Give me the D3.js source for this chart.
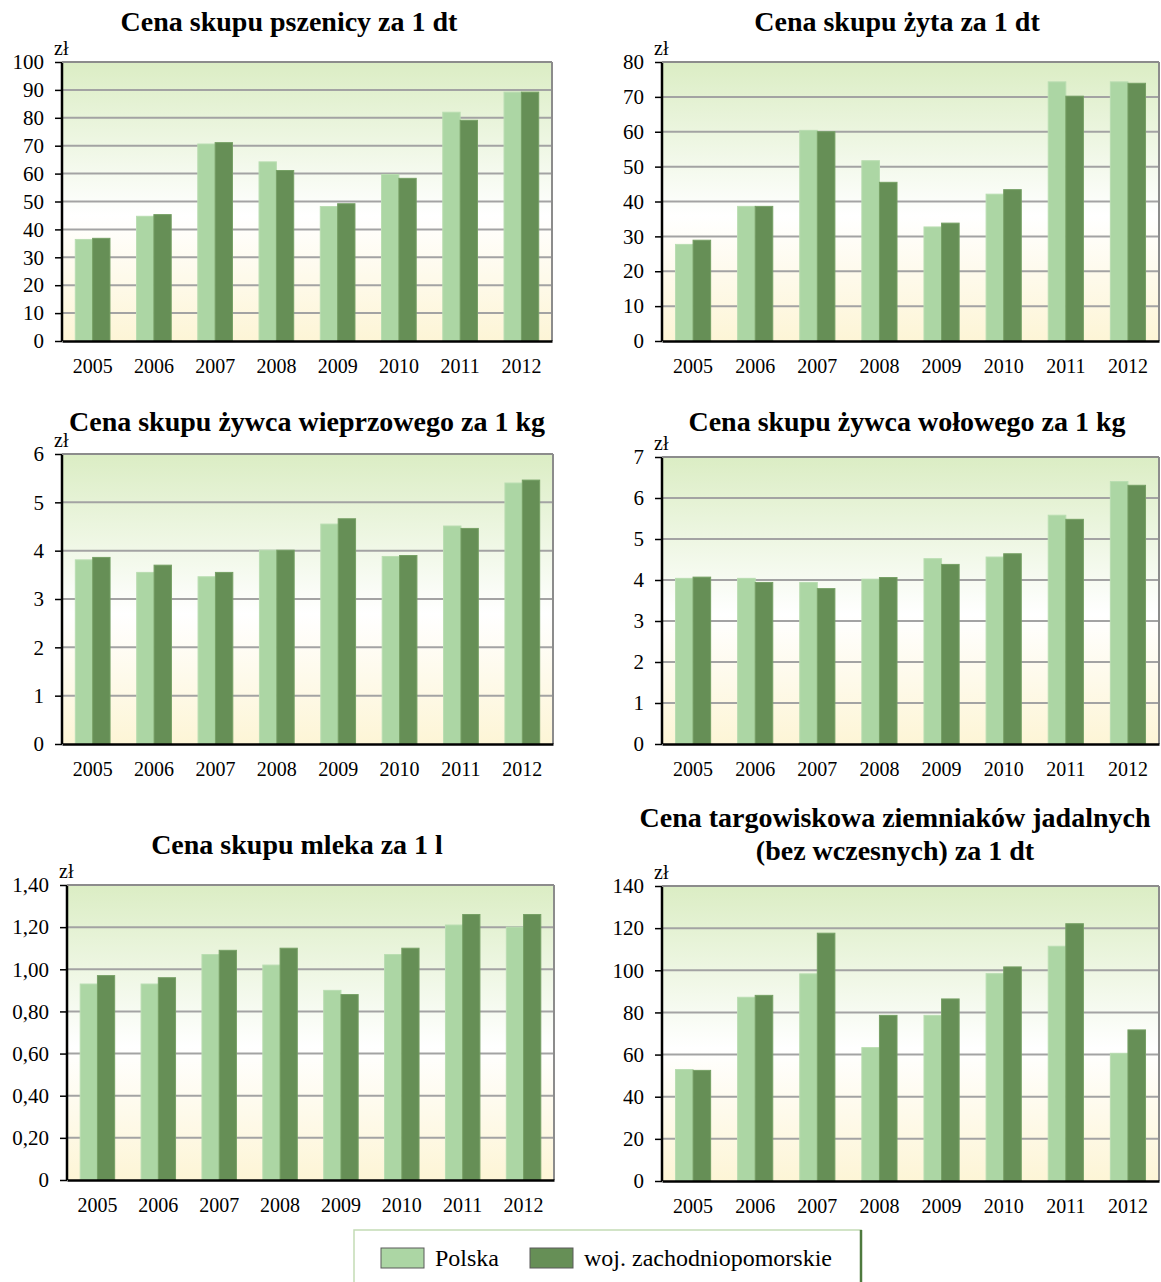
<!DOCTYPE html>
<html>
<head>
<meta charset="utf-8">
<script src="https://cdn.jsdelivr.net/npm/d3@7"></script>
<style>
  body { margin: 0; background: #fff; }
  svg { display: block; font-family: "Liberation Serif", "Times New Roman", serif; }
</style>
</head>
<body>
<div id="chart"></div>
<script>
var years = ['2005', '2006', '2007', '2008', '2009', '2010', '2011', '2012'];
var seriesNames = ['Polska', 'woj. zachodniopomorskie'];

var wheatPL = [36.4, 44.7, 70.6, 64.2, 48.2, 59.7, 82.0, 89.2];
var wheatZP = [36.8, 45.3, 71.1, 61.1, 49.2, 58.3, 79.1, 89.2];
var wheatTicks = [0, 10, 20, 30, 40, 50, 60, 70, 80, 90, 100];

var ryePL = [27.7, 38.6, 60.4, 51.7, 32.7, 42.1, 74.3, 74.3];
var ryeZP = [28.9, 38.6, 60.0, 45.5, 33.8, 43.4, 70.2, 73.9];
var ryeTicks = [0, 10, 20, 30, 40, 50, 60, 70, 80];

var porkPL = [3.81, 3.55, 3.46, 4.01, 4.55, 3.88, 4.51, 5.40];
var porkZP = [3.86, 3.70, 3.55, 4.01, 4.66, 3.90, 4.46, 5.46];
var porkTicks = [0, 1, 2, 3, 4, 5, 6];

var beefPL = [4.04, 4.04, 3.94, 4.02, 4.52, 4.56, 5.58, 6.40];
var beefZP = [4.07, 3.94, 3.79, 4.06, 4.38, 4.64, 5.48, 6.31];
var beefTicks = [0, 1, 2, 3, 4, 5, 6, 7];

var milkPL = [0.93, 0.93, 1.07, 1.02, 0.90, 1.07, 1.21, 1.20];
var milkZP = [0.97, 0.96, 1.09, 1.10, 0.88, 1.10, 1.26, 1.26];
var milkTicks = [0, 0.2, 0.4, 0.6, 0.8, 1.0, 1.2, 1.4];

var potatoPL = [52.9, 87.2, 98.3, 63.3, 78.6, 98.4, 111.4, 60.6];
var potatoZP = [52.5, 88.1, 117.6, 78.6, 86.4, 101.6, 122.1, 71.7];
var potatoTicks = [0, 20, 40, 60, 80, 100, 120, 140];

var lightGreen = '#acd6a4';
var darkGreen = '#668f56';

var width = 1161;
var height = 1282;

var svg = d3.select('#chart')
            .append('svg')
            .attr('width', width)
            .attr('height', height);

// background gradient of the plot area
var grad = svg.append('defs')
              .append('linearGradient')
              .attr('id', 'plotBg')
              .attr('x1', 0).attr('y1', 0)
              .attr('x2', 0).attr('y2', 1);
grad.append('stop').attr('offset', '0%').attr('stop-color', '#dbedc4');
grad.append('stop').attr('offset', '55%').attr('stop-color', '#ffffff');
grad.append('stop').attr('offset', '100%').attr('stop-color', '#fdf5d6');

var comma = d => d === 0 ? '0' : d.toFixed(2).replace('.', ',');

var panels = [
  {title: ['Cena skupu pszenicy za 1 dt'], tx: 289, ty: 31, x: 62, y: 62, w: 490, h: 279,
   pl: wheatPL, zp: wheatZP, ticks: wheatTicks, fmt: d3.format('d')},
  {title: ['Cena skupu żyta za 1 dt'], tx: 897, ty: 31, x: 662, y: 62, w: 497, h: 279,
   pl: ryePL, zp: ryeZP, ticks: ryeTicks, fmt: d3.format('d')},
  {title: ['Cena skupu żywca wieprzowego za 1 kg'], tx: 307, ty: 431, x: 62, y: 454, w: 491, h: 290,
   pl: porkPL, zp: porkZP, ticks: porkTicks, fmt: d3.format('d')},
  {title: ['Cena skupu żywca wołowego za 1 kg'], tx: 907, ty: 431, x: 662, y: 457, w: 497, h: 287,
   pl: beefPL, zp: beefZP, ticks: beefTicks, fmt: d3.format('d')},
  {title: ['Cena skupu mleka za 1 l'], tx: 297, ty: 854, x: 67, y: 885, w: 487, h: 295,
   pl: milkPL, zp: milkZP, ticks: milkTicks, fmt: comma},
  {title: ['Cena targowiskowa ziemniaków jadalnych', '(bez wczesnych) za 1 dt'], tx: 895, ty: 827, x: 662, y: 886, w: 497, h: 295,
   pl: potatoPL, zp: potatoZP, ticks: potatoTicks, fmt: d3.format('d')}
];

panels.forEach(drawPanel);

function drawPanel(p) {
  var t = svg.append('text')
             .attr('text-anchor', 'middle')
             .attr('font-size', 28)
             .attr('font-weight', 'bold')
             .attr('fill', '#000');
  p.title.forEach((line, i) => {
    t.append('tspan').attr('x', p.tx).attr('y', p.ty + i * 33).text(line);
  });

  var g = svg.append('g')
             .attr('transform', 'translate(' + p.x + ',' + p.y + ')');

  var x0 = d3.scaleBand()
             .domain(years)
             .range([0, p.w])
             .paddingInner(0.434)
             .paddingOuter(0.217);

  var x1 = d3.scaleBand()
             .domain(seriesNames)
             .range([0, x0.bandwidth()]);

  var y = d3.scaleLinear()
            .domain([0, d3.max(p.ticks)])
            .range([p.h, 0]);

  g.append('rect')
   .attr('width', p.w)
   .attr('height', p.h)
   .attr('fill', 'url(#plotBg)');

  // gridlines
  g.selectAll('.grid')
   .data(p.ticks.slice(1))
   .enter()
   .append('line')
   .attr('x1', 0).attr('x2', p.w)
   .attr('y1', d => y(d)).attr('y2', d => y(d))
   .attr('stroke', '#a3a3a3')
   .attr('stroke-width', 2);

  // right border
  g.append('line')
   .attr('x1', p.w).attr('x2', p.w)
   .attr('y1', 0).attr('y2', p.h)
   .attr('stroke', '#8c8c8c')
   .attr('stroke-width', 2);

  var rows = years.map((yr, i) => ({year: yr, vals: [p.pl[i], p.zp[i]]}));

  var grp = g.selectAll('.grp')
             .data(rows)
             .enter()
             .append('g')
             .attr('transform', d => 'translate(' + x0(d.year) + ',0)');

  grp.selectAll('rect')
     .data(d => d.vals.map((v, j) => ({name: seriesNames[j], value: v})))
     .enter()
     .append('rect')
     .attr('x', d => x1(d.name))
     .attr('y', d => y(d.value))
     .attr('width', x1.bandwidth())
     .attr('height', d => p.h - y(d.value))
     .attr('fill', d => d.name === 'Polska' ? lightGreen : darkGreen)
     .attr('stroke', d => d.name === 'Polska' ? '#b9ddb1' : '#76a065')
     .attr('stroke-width', 1);

  // y axis
  var yAxis = g.append('g')
               .call(d3.axisLeft(y).tickValues(p.ticks).tickFormat(p.fmt).tickSize(7).tickPadding(11));
  yAxis.select('.domain')
       .attr('d', 'M0,0V' + p.h)
       .attr('stroke', '#000')
       .attr('stroke-width', 2.5);
  yAxis.selectAll('.tick line').attr('stroke', '#000').attr('stroke-width', 1.5);
  yAxis.selectAll('.tick text')
       .attr('font-size', 21)
       .attr('font-family', '"Liberation Serif", serif')
       .attr('fill', '#000');

  // x axis
  var xAxis = g.append('g')
               .attr('transform', 'translate(0,' + p.h + ')')
               .call(d3.axisBottom(x0).tickSize(0).tickPadding(18));
  xAxis.select('.domain')
       .attr('stroke', '#000')
       .attr('stroke-width', 2.5);
  xAxis.selectAll('.tick text')
       .attr('font-size', 20)
       .attr('font-family', '"Liberation Serif", serif')
       .attr('fill', '#000');

  // top border
  g.append('line')
   .attr('x1', 0).attr('x2', p.w)
   .attr('y1', 0).attr('y2', 0)
   .attr('stroke', '#8c8c8c')
   .attr('stroke-width', 2);

  g.append('text')
   .attr('x', -8)
   .attr('y', -7)
   .attr('font-size', 20)
   .attr('fill', '#000')
   .text('zł');
}

// legend
var legend = svg.append('g').attr('transform', 'translate(354,1230)');
legend.append('rect')
      .attr('x', 0).attr('y', 0)
      .attr('width', 507).attr('height', 60)
      .attr('fill', '#fff')
      .attr('stroke', '#c3dcb5')
      .attr('stroke-width', 1.5);
legend.append('line')
      .attr('x1', 507).attr('x2', 507)
      .attr('y1', 0).attr('y2', 60)
      .attr('stroke', '#4e7a3e')
      .attr('stroke-width', 2.5);

var legendX = d3.scaleOrdinal().domain(seriesNames).range([27, 176]);

var item = legend.selectAll('.item')
                 .data(seriesNames)
                 .enter()
                 .append('g')
                 .attr('transform', d => 'translate(' + legendX(d) + ',18)');
item.append('rect')
    .attr('width', 43).attr('height', 20)
    .attr('fill', d => d === 'Polska' ? lightGreen : darkGreen)
    .attr('stroke', '#5a5a5a')
    .attr('stroke-width', 1);
item.append('text')
    .attr('x', 54)
    .attr('y', 18)
    .attr('font-size', 24)
    .attr('fill', '#000')
    .text(d => d);
</script>
</body>
</html>
